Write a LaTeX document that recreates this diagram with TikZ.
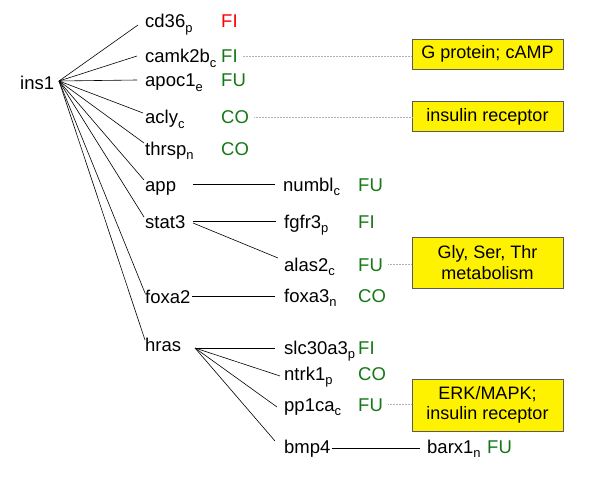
\documentclass[tikz,border=0pt]{standalone}
\usepackage{fontspec}
\setmainfont{Liberation Sans}
\usepackage{tikz}
\usetikzlibrary{positioning}

\definecolor{fgreen}{RGB}{20,120,20}
\definecolor{fred}{RGB}{255,0,0}
\definecolor{boxline}{RGB}{90,90,90}
\newcommand{\gsub}[1]{\textsubscript{\raisebox{-0.25ex}{#1}}}

\begin{document}
\begin{tikzpicture}[x=1pt,y=-1pt,
		every node/.style={font=\fontsize{18.5}{21}\selectfont,inner sep=0pt,anchor=base west},
		gene/.style={text=black},
		tag/.style={text=fgreen},
		pathway/.style={draw=boxline,fill=yellow,anchor=center,align=center,
			minimum width=151pt,minimum height=30pt,line width=0.6pt,
			font=\fontsize{18}{20.5}\selectfont},
		link/.style={draw=gray!60,densely dotted,line width=0.5pt}]
		\useasboundingbox (0,0) rectangle (600,487);
		% hub
		\node[gene] (ins1) at (20,89) {ins1};
		\coordinate (hub) at (59,81);
		% first ring
		\node[gene] (cd36) at (145,28) {cd36\gsub{p}};
		\node[gene] (camk2b) at (145,63) {camk2b\gsub{c}};
		\node[gene] (apoc1) at (145,87) {apoc1\gsub{e}};
		\node[gene] (acly) at (145,124) {acly\gsub{c}};
		\node[gene] (thrsp) at (145,155) {thrsp\gsub{n}};
		\node[gene] (app) at (145,191) {app};
		\node[gene] (stat3) at (145,228) {stat3};
		\node[gene] (foxa2) at (145,303) {foxa2};
		\node[gene] (hras) at (145,351) {hras};
		\node[tag,text=fred] (cd36t) at (221,28) {FI};
		\node[tag] (camk2bt) at (221,63) {FI};
		\node[tag] (apoc1t) at (221,87) {FU};
		\node[tag] (aclyt) at (221,124) {CO};
		\node[tag] (thrspt) at (221,155) {CO};
		\foreach \g/\dx/\dy in {cd36/-7/3,camk2b/-8/7,apoc1/-8/7,acly/-2/11,thrsp/-1/12,%
			app/-1/11,stat3/-1/11,foxa2/0/10,hras/0/11}
			\draw[line width=0.6pt] (hub) -- ([xshift=\dx pt,yshift=\dy pt]\g.base west);
		% second ring
		\node[gene] (numbl) at (283,191) {numbl\gsub{c}};
		\node[gene] (fgfr3) at (284,228) {fgfr3\gsub{p}};
		\node[gene] (alas2) at (284,271) {alas2\gsub{c}};
		\node[gene] (foxa3) at (284,302) {foxa3\gsub{n}};
		\node[gene] (slc30a3) at (284,354) {slc30a3\gsub{p}};
		\node[gene] (ntrk1) at (284,380) {ntrk1\gsub{p}};
		\node[gene] (pp1ca) at (284,411) {pp1ca\gsub{c}};
		\node[gene] (bmp4) at (284,453) {bmp4};
		\node[gene] (barx1) at (427,453) {barx1\gsub{n}};
		\node[tag] (numblt) at (358,191) {FU};
		\node[tag] (fgfr3t) at (358,228) {FI};
		\node[tag] (alas2t) at (358,271) {FU};
		\node[tag] (foxa3t) at (358,302) {CO};
		\node[tag] (slc30a3t) at (358,354) {FI};
		\node[tag] (ntrk1t) at (358,380) {CO};
		\node[tag] (pp1cat) at (358,411) {FU};
		\node[tag] (barx1t) at (487,453) {FU};
		\foreach \a/\ax/\ay/\b/\bx/\by in {app/48/7/numbl/-8/7,stat3/48/7/fgfr3/-8/7,%
			stat3/48/5/alas2/-6/13,foxa2/47/7/foxa3/-9/6,hras/50/3/slc30a3/-9/6,%
			hras/50/3/ntrk1/-4/4,hras/50/3/pp1ca/-7/4,hras/50/3/bmp4/-9/12}
			\draw[line width=0.6pt] ([xshift=\ax pt,yshift=\ay pt]\a.base west) -- ([xshift=\bx pt,yshift=\by pt]\b.base west);
		\draw[line width=0.6pt] ([xshift=1pt,yshift=5pt]bmp4.base east) -- ([xshift=-7pt,yshift=5pt]barx1.base west);
		% pathways
		\node[pathway] (gprot) at (487.5,54) {G protein; cAMP};
		\node[pathway] (insr) at (487.5,116.5) {insulin receptor};
		\node[pathway,minimum height=51pt] (gly) at (487.5,262.5) {Gly, Ser, Thr\\metabolism};
		\node[pathway,minimum height=52pt] (erk) at (487.5,405) {ERK/MAPK;\\insulin receptor};
		\draw[link] ([xshift=5pt]camk2bt.east) -- (camk2bt.east -| gprot.west);
		\draw[link] ([xshift=5pt]aclyt.east) -- (aclyt.east -| insr.west);
		\draw[link] ([xshift=5pt]alas2t.east) -- (alas2t.east -| gly.west);
		\draw[link] ([xshift=5pt]pp1cat.east) -- (pp1cat.east -| erk.west);
\end{tikzpicture}
\end{document}
